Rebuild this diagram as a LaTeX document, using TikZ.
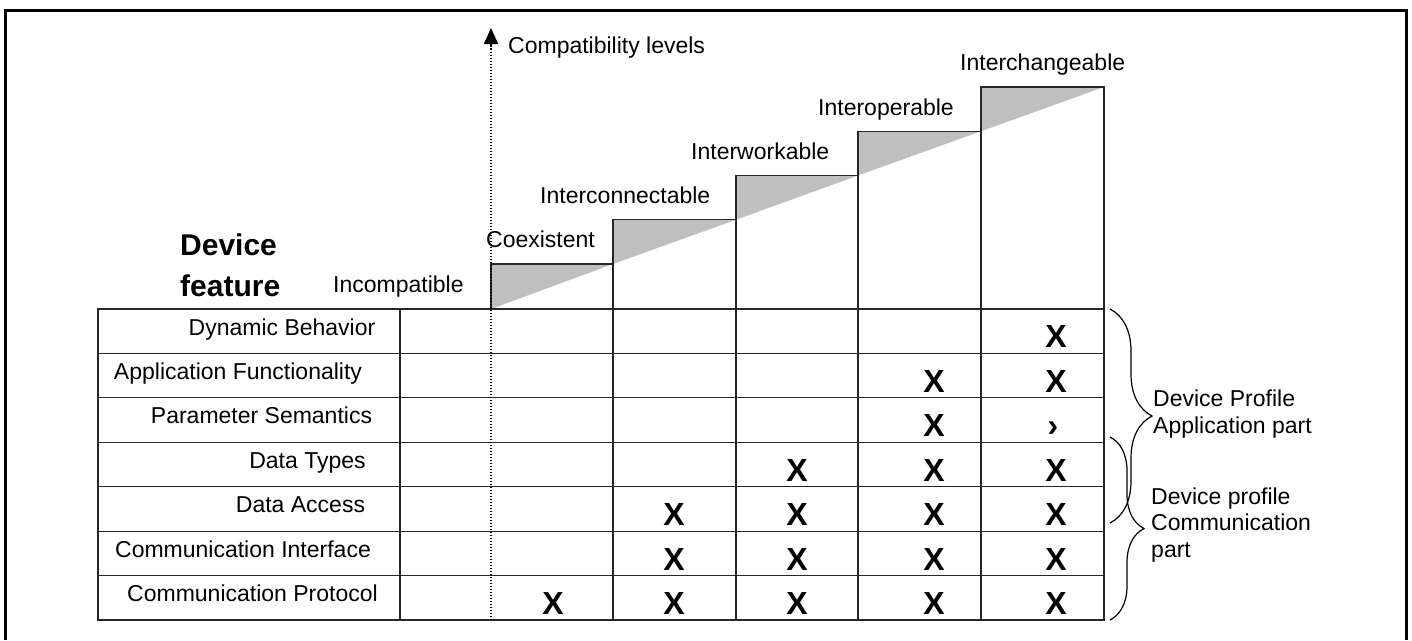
\documentclass[tikz,border=0pt]{standalone}
\usepackage{fontspec}
\setmainfont{Liberation Sans}
\usetikzlibrary{arrows.meta,decorations.pathreplacing}

\begin{document}
\begin{tikzpicture}[x=1pt,y=-1pt,
  tableline/.style={draw=black!85, line width=1.2pt},
  outerframe/.style={draw=black, line width=3pt},
  levelfill/.style={fill=black!25},
  lbl/.style={font=\fontsize{23}{26}\selectfont, inner sep=0pt},
  xmark/.style={font=\bfseries\fontsize{32}{32}\selectfont, inner sep=0pt, anchor=base},
  levellbl/.style={lbl, anchor=base west},
  headlbl/.style={font=\bfseries\fontsize{30}{30}\selectfont, inner sep=0pt, anchor=base west},
  axisline/.style={line width=1.5pt, dash pattern=on 1.5pt off 1.5pt},
  bracepath/.style={decorate, line width=1.2pt}
]
\useasboundingbox (0,0) rectangle (1412,640);

% open outer frame
\draw[outerframe] (5,640) -- (5,10) -- (1406,10) -- (1406,640);

% shaded wedges of the compatibility staircase
\fill[levelfill] (491,309)    -- (491,264)    -- (613,264)    -- cycle;
\fill[levelfill] (613,264)    -- (613,219.75) -- (736,219.75) -- cycle;
\fill[levelfill] (736,219.75) -- (736,175.5)  -- (858,175.5)  -- cycle;
\fill[levelfill] (858,175.5)  -- (858,131.25) -- (981,131.25) -- cycle;
\fill[levelfill] (981,131.25) -- (981,87)     -- (1104,87)    -- cycle;

% staircase outlines, continued down through the table
\draw[tableline] (491,309)    -- (491,264)    -- (613,264)    -- (613,620);
\draw[tableline] (613,264)    -- (613,219.75) -- (736,219.75) -- (736,620);
\draw[tableline] (736,219.75) -- (736,175.5)  -- (858,175.5)  -- (858,620);
\draw[tableline] (858,175.5)  -- (858,131.25) -- (981,131.25) -- (981,620);
\draw[tableline] (981,131.25) -- (981,87)     -- (1104,87)    -- (1104,620);

% feature table
\draw[tableline] (98,309) rectangle (1104,620);
\draw[tableline] (400,309) -- (400,620);
\foreach \r in {353.43,397.86,442.29,486.71,531.14,575.57}
  \draw[tableline] (98,\r) -- (1104,\r);

% compatibility axis
\coordinate (axisfoot) at (491,620);
\coordinate (axistop) at (491,28);
\draw[axisline, -{Triangle[length=16pt,width=14pt]}] (axisfoot) -- (axistop);
\node[levellbl] (axislbl) at (508,53) {Compatibility levels};

% level names
\node[levellbl] (lvIncomp) at (333,292) {Incompatible};
\node[levellbl] (lvCoex)   at (486,247) {Coexistent};
\node[levellbl] (lvConn)   at (540,203) {Interconnectable};
\node[levellbl] (lvWork)   at (691,159) {Interworkable};
\node[levellbl] (lvOper)   at (818,115) {Interoperable};
\node[levellbl] (lvChange) at (960,70)  {Interchangeable};

% heading
\node[headlbl] (headA) at (180,255) {Device};
\node[headlbl] (headB) at (180,296) {feature};

% feature rows
\node[lbl, anchor=base] (rDyn) at (282,335)   {Dynamic Behavior};
\node[lbl, anchor=base] (rApp) at (238,379.4) {Application Functionality};
\node[lbl, anchor=base] (rPar) at (261.5,423.9) {Parameter Semantics};
\node[lbl, anchor=base] (rTyp) at (307.5,468.3) {Data Types};
\node[lbl, anchor=base] (rAcc) at (300.5,512.7) {Data Access};
\node[lbl, anchor=base] (rIfc) at (243,557.1)  {Communication Interface};
\node[lbl, anchor=base] (rPro) at (252.5,601.6) {Communication Protocol};

% marks
\node[xmark] (m04) at (1056,347.9) {X};
\node[xmark] (m13) at (934,392.4)  {X};
\node[xmark] (m14) at (1056,392.4) {X};
\node[xmark] (m23) at (934,436.8)  {X};
\node[xmark] (m24) at (1053,436.8) {›};
\node[xmark] (m32) at (797,481.2)  {X};
\node[xmark] (m33) at (934,481.2)  {X};
\node[xmark] (m34) at (1056,481.2) {X};
\node[xmark] (m41) at (674,525.6)  {X};
\node[xmark] (m42) at (797,525.6)  {X};
\node[xmark] (m43) at (934,525.6)  {X};
\node[xmark] (m44) at (1056,525.6) {X};
\node[xmark] (m51) at (674,570.1)  {X};
\node[xmark] (m52) at (797,570.1)  {X};
\node[xmark] (m53) at (934,570.1)  {X};
\node[xmark] (m54) at (1056,570.1) {X};
\node[xmark] (m60) at (553,614.5)  {X};
\node[xmark] (m61) at (674,614.5)  {X};
\node[xmark] (m62) at (797,614.5)  {X};
\node[xmark] (m63) at (934,614.5)  {X};
\node[xmark] (m64) at (1056,614.5) {X};

% profile braces
\coordinate (appTop) at (1110,309);
\coordinate (appBot) at (1110,523);
\draw[bracepath, decoration={brace, amplitude=42pt}] (appTop) -- (appBot);
\coordinate (comTop) at (1110,437);
\coordinate (comBot) at (1110,620);
\draw[bracepath, decoration={brace, amplitude=34pt}] (comTop) -- (comBot);

\node[levellbl] (appA) at (1153,406) {Device Profile};
\node[levellbl] (appB) at (1153,433) {Application part};
\node[levellbl] (comA) at (1151,504) {Device profile};
\node[levellbl] (comB) at (1151,530.5) {Communication};
\node[levellbl] (comC) at (1151,557) {part};
\end{tikzpicture}
\end{document}
